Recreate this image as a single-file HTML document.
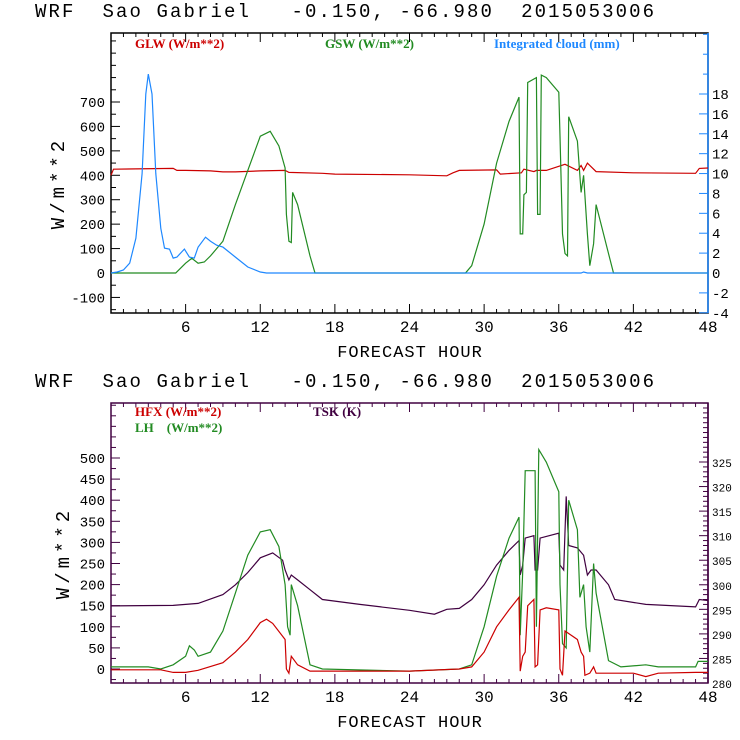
<!DOCTYPE html>
<html><head><meta charset="utf-8"><style>
body{margin:0;background:#fff;}
svg{display:block;font-family:"Liberation Mono",monospace;}
text{white-space:pre;}
</style></head><body>
<svg id="s" width="740" height="740" xmlns="http://www.w3.org/2000/svg"></svg>
<script>
const xTicks=[6,12,18,24,30,36,42,48];
const glwHours=[0,0.2,5,5.3,6,8,9,10,12,14,14.3,17,18,24,27,27.5,28,31,31.3,33,33.2,34,34.2,35,36.5,37.5,37.8,38,38.3,39,42,47,47.3,48];
const glwVals=[400,425,428,420,420,418,414,414,418,420,412,408,405,402,398,410,420,422,405,410,425,415,420,420,445,420,440,420,450,415,410,408,428,430];
const gswHours=[0,5.2,6,6.5,7,7.5,8,9,10,11,12,12.8,13.5,14,14.1,14.3,14.5,14.6,15,16,16.4,28.5,29,30,31,32,32.8,32.9,33.1,33.2,33.4,33.5,34.2,34.3,34.5,34.6,35,36,36.1,36.3,36.5,36.7,36.8,37.5,37.8,38,38.3,38.5,38.8,39,40,40.4,48];
const gswVals=[0,0,40,60,40,45,70,130,280,420,560,580,520,430,240,130,125,330,280,70,0,0,30,200,450,620,720,160,160,320,330,780,800,240,240,810,800,740,560,160,80,70,640,540,330,400,160,30,120,280,80,0,0];
const cloudHours=[0,0.5,1,1.5,2,2.5,2.8,3,3.3,3.6,4,4.3,4.7,5,5.3,5.6,5.9,6.3,6.7,7,7.6,8,8.5,9,10,11,12,12.5,37.8,38,38.3,48];
const cloudVals=[0,0.1,0.3,1,3.5,10,18,20,18,10,4.5,2.5,2.4,1.5,1.6,2,2.4,1.6,1.5,2.6,3.6,3.2,2.8,2.6,1.6,0.6,0.1,0,0,0.1,0,0];
const hfxHours=[0,4,5,6,7,9,10,11,12,12.5,13,14,14.1,14.3,14.5,15,16,24,28,29,30,31,32,32.8,32.9,33.1,33.3,33.5,34,34.1,34.3,34.5,35,36,36.1,36.3,36.5,37,37.5,37.8,38,38.1,38.5,38.8,39,40,42,43,44,47,48];
const hfxVals=[-2,-2,-8,-8,-3,15,40,70,110,118,108,70,0,-10,30,10,-5,-5,0,5,40,100,140,170,-5,30,40,150,165,5,10,140,145,140,0,-15,90,80,70,40,30,-15,-10,5,-10,-10,-10,-18,-10,-8,-8];
const lhHours=[0,3,4,5,6,6.3,6.7,7,8,9,10,11,12,12.8,13.5,14,14.2,14.4,14.5,15,16,17,24,28,29,30,31,32,32.8,32.9,33.1,33.3,34.1,34.2,34.4,35,36,36.1,36.3,36.6,36.8,37.5,37.7,38,38.2,38.5,38.8,39,40,41,43,44,47,47.2,48];
const lhVals=[5,5,0,10,30,55,45,30,40,90,180,270,325,330,290,200,100,80,200,150,10,0,-5,0,10,100,220,310,360,80,230,470,470,100,520,490,420,200,60,50,400,330,170,200,100,40,250,180,20,5,10,5,5,18,18];
const tskHours=[0,5,7,9,10,11,12,13,13.8,14,14.3,14.5,15,16,17,20,24,26,27,28,29,30,31,32,32.8,32.9,33.1,33.3,34,34.1,34.3,34.5,36,36.1,36.4,36.6,36.8,37.5,38,38.3,38.6,39,40,40.5,43,47,47.3,48];
const tskVals=[295.7,295.8,296.2,298,300,302.5,305.5,306.5,305,303,301,302,301,299,297,296,294.8,294,295,295.2,297,300,304,307,309,302,304,309.5,310,303,303,309.5,310.5,304,303,318,308,307.5,306,302,303,303,300,297,296,295.5,297,296.8];
const topLeftTicks=[-100,0,100,200,300,400,500,600,700];
const topRightTicks=[-4,-2,0,2,4,6,8,10,12,14,16,18];
const botLeftTicks=[0,50,100,150,200,250,300,350,400,450,500];
const botRightTicks=[280,285,290,295,300,305,310,315,320,325];

const NS="http://www.w3.org/2000/svg";const S=document.getElementById('s');
function mk(t,a,p){const e=document.createElementNS(NS,t);for(const k in a)e.setAttribute(k,a[k]);(p||S).appendChild(e);return e;}
const X0=111,X1=708;const xs=h=>X0+(X1-X0)*h/48;
function lin(d0,d1,p0,p1){return v=>p0+(v-d0)*(p1-p0)/(d1-d0);}
function line(hs,vs,f,col,name){const d=hs.map((h,i)=>(i?'L':'M')+xs(h).toFixed(1)+','+f(vs[i]).toFixed(1)).join('');const p=mk('path',{d:d,fill:'none',stroke:col,'stroke-width':1.2});}
function txt(x,y,s,o){const t=mk('text',Object.assign({x:x,y:y},o||{}));t.textContent=s;return t;}
function panel(top,bot,yl,yr,lt,rt,lminor,rminor,boxCol,rCol,nm){
  const b=mk('rect',{x:X0,y:top,width:X1-X0,height:bot-top,fill:'none',stroke:boxCol,'stroke-width':1.5});
  
  mk('line',{x1:X1,y1:top,x2:X1,y2:bot,stroke:rCol,'stroke-width':1.5});
  for(let h=1;h<48;h++){const L=h%6?4:9;mk('line',{x1:xs(h),y1:bot,x2:xs(h),y2:bot-L,stroke:boxCol});mk('line',{x1:xs(h),y1:top,x2:xs(h),y2:top+L,stroke:boxCol});}
  xTicks.forEach(h=>{const t=txt(xs(h),bot+19,String(h),{'text-anchor':'middle','font-size':16});});
  for(let v=lminor[0];yl(v)>=top;v+=lminor[1]){const major=lt.includes(v);mk('line',{x1:X0,y1:yl(v),x2:X0+(major?9:5),y2:yl(v),stroke:boxCol});}
  lt.forEach(v=>{const t=txt(X0-6,yl(v)+5,String(v),{'text-anchor':'end','font-size':14});});
  for(let v=rminor[0];yr(v)>=top;v+=rminor[1]){const major=rt.includes(v);mk('line',{x1:X1,y1:yr(v),x2:X1-(major?9:5),y2:yr(v),stroke:rCol});}
  rt.forEach(v=>{const t=txt(X1+4,yr(v)+5,String(v),{'font-size':rt[0]>100?11:14});});
  const xl=txt(410,bot+44,'FORECAST HOUR',{'text-anchor':'middle','font-size':17,'letter-spacing':1});
  const yt=txt(0,0,'W/m**2',{'text-anchor':'middle','font-size':19,'letter-spacing':4,transform:'translate('+(nm=='top'?64:69)+','+((top+bot)/2+10)+') rotate(-90)'});
  const ti=txt(35,top-16,'WRF  Sao Gabriel   -0.150, -66.980  2015053006',{'font-size':19,'letter-spacing':2.1});
}
const tT=33,tB=313;const yL1=lin(0,700,273,102),yR1=lin(0,18,273,94);
panel(tT,tB,yL1,yR1,topLeftTicks,topRightTicks,[-150,50],[-4,2],'#000','#1e88ff','top');
line(glwHours,glwVals,yL1,'#cc0000','glw-line');
line(gswHours,gswVals,yL1,'#228b22','gsw-line');
line(cloudHours,cloudVals,yR1,'#1e88ff','cloud-line');
const sf={'font-family':'Liberation Serif,serif','font-size':13,'font-weight':'bold'};
let l=txt(135,48,'GLW (W/m**2)',Object.assign({fill:'#cc0000'},sf));
l=txt(325,48,'GSW (W/m**2)',Object.assign({fill:'#228b22'},sf));
l=txt(494,48,'Integrated cloud (mm)',Object.assign({fill:'#1e88ff'},sf));
const bT=403,bB=683;const yL2=lin(0,500,669,458),yR2=lin(280,325,683,462);
panel(bT,bB,yL2,yR2,botLeftTicks,botRightTicks,[-25,25],[280,1],'#400040','#400040','bottom');
line(tskHours,tskVals,yR2,'#400040','tsk-line');
line(lhHours,lhVals,yL2,'#228b22','lh-line');
line(hfxHours,hfxVals,yL2,'#cc0000','hfx-line');
l=txt(135,416,'HFX (W/m**2)',Object.assign({fill:'#cc0000'},sf));
l=txt(135,432,'LH    (W/m**2)',Object.assign({fill:'#228b22'},sf));
l=txt(313,416,'TSK (K)',Object.assign({fill:'#400040'},sf));
</script>
</body></html>
